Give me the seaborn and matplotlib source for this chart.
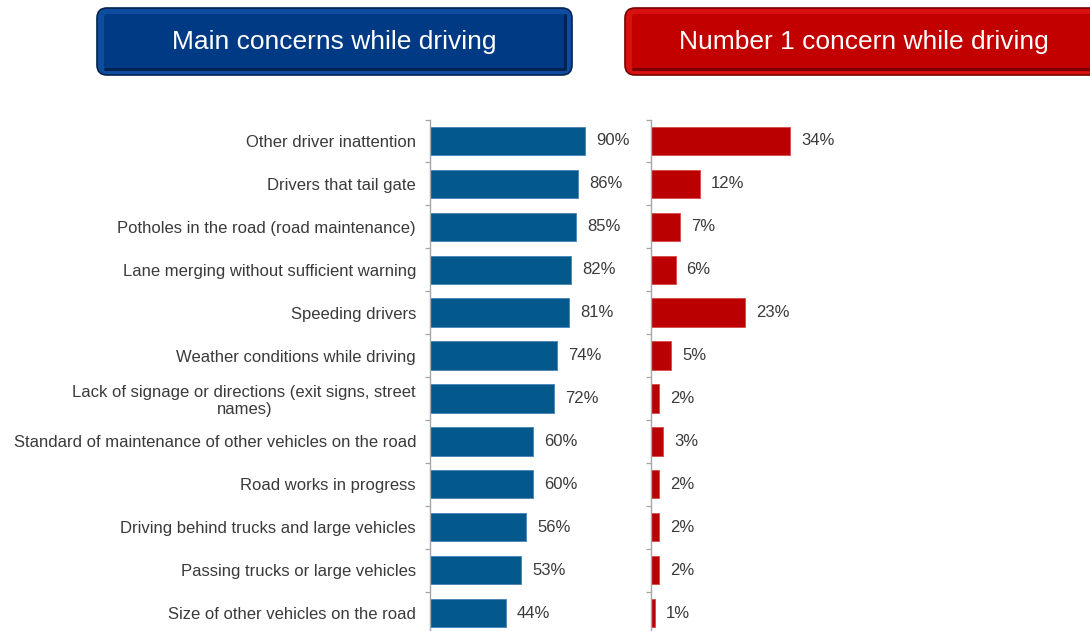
import numpy as np
import pandas as pd
import matplotlib
matplotlib.use("Agg")
import matplotlib.pyplot as plt
import seaborn as sns
from matplotlib.patches import FancyBboxPatch

# Survey results
categories = [
    "Other driver inattention",
    "Drivers that tail gate",
    "Potholes in the road (road maintenance)",
    "Lane merging without sufficient warning",
    "Speeding drivers",
    "Weather conditions while driving",
    "Lack of signage or directions (exit signs, street\nnames)",
    "Standard of maintenance of other vehicles on the road",
    "Road works in progress",
    "Driving behind trucks and large vehicles",
    "Passing trucks or large vehicles",
    "Size of other vehicles on the road",
]
main_concerns = [90, 86, 85, 82, 81, 74, 72, 60, 60, 56, 53, 44]
number_one_concern = [34, 12, 7, 6, 23, 5, 2, 3, 2, 2, 2, 1]

left_title = "Main concerns while driving"
right_title = "Number 1 concern while driving"

df = pd.DataFrame({
    "concern": categories,
    "main": main_concerns,
    "top": number_one_concern,
})

sns.set_theme(style="white")
plt.rcParams["font.family"] = ["Liberation Sans", "DejaVu Sans"]

W, H = 1090, 631
fig = plt.figure(figsize=(W / 100, H / 100), dpi=100)
fig.patch.set_facecolor("white")


def px_rect(x0, x1, y0, y1):
    return [x0 / W, 1 - y1 / H, (x1 - x0) / W, (y1 - y0) / H]


# Header banners drawn in pixel space
hdr = fig.add_axes([0, 0, 1, 1])
hdr.set_xlim(0, W)
hdr.set_ylim(H, 0)
hdr.axis("off")
hdr.patch.set_alpha(0)


def banner(x, y, w, h, outer, inner, shade, text):
    hdr.add_patch(FancyBboxPatch((x, y), w, h,
                                 boxstyle="round,pad=0,rounding_size=10",
                                 fc=outer, ec=shade, lw=1.2))
    hdr.add_patch(FancyBboxPatch((x + 7, y + 6), w - 14, h - 12,
                                 boxstyle="round,pad=0,rounding_size=3",
                                 fc=inner, ec="none"))
    hdr.plot([x + 8, x + w - 7, x + w - 7], [y + h - 6, y + h - 6, y + 7],
             color=shade, lw=2.2, solid_capstyle="round")
    hdr.text(x + w / 2, y + h / 2 + 0.5, text, color="white", fontsize=19,
             ha="center", va="center")


banner(97, 8, 475, 67, "#0D4C9E", "#013A84", "#00234F", left_title)
banner(625, 8, 478, 67, "#D8100F", "#C20000", "#780000", right_title)

ax1 = fig.add_axes(px_rect(430, 605, 119.5, 634.5))
ax2 = fig.add_axes(px_rect(651, 1071, 119.5, 634.5))

sns.barplot(data=df, x="main", y="concern", ax=ax1, color="#04598C",
            saturation=1, width=0.66, edgecolor="#4F88B8", linewidth=0.7)
sns.barplot(data=df, x="top", y="concern", ax=ax2, color="#BA0000",
            saturation=1, width=0.66, edgecolor="#D85050", linewidth=0.7)

ax1.set_xlim(0, 175 / 1.722)
ax2.set_xlim(0, 420 / 4.09)

text_color = "#3A3A3A"
n = len(categories)
for ax, vals in ((ax1, main_concerns), (ax2, number_one_concern)):
    ax.set_ylim(n - 0.5, -0.5)
    ax.set_xlabel("")
    ax.set_ylabel("")
    ax.xaxis.set_visible(False)
    for s in ("top", "right", "bottom"):
        ax.spines[s].set_visible(False)
    ax.spines["left"].set_color("#A6A6A6")
    ax.spines["left"].set_linewidth(1.0)
    ax.set_yticks(np.arange(-0.5, n, 1))
    ax.set_yticklabels([])
    ax.tick_params(axis="y", which="major", direction="out", length=3.5,
                   width=0.9, color="#A6A6A6", left=True)
    for i, v in enumerate(vals):
        ax.annotate(f"{v}%", xy=(v, i), xytext=(11, 0),
                    textcoords="offset pixels", ha="left", va="center",
                    fontsize=12, color=text_color)

ax1.set_yticks(np.arange(n), labels=categories, minor=True)
ax1.tick_params(axis="y", which="minor", length=0, pad=10,
                labelsize=12, labelcolor=text_color)
for lbl in ax1.get_yticklabels(minor=True):
    lbl.set_multialignment("center")
ax2.set_yticks([], minor=True)

fig.savefig("out.png", dpi=100, facecolor="white")
